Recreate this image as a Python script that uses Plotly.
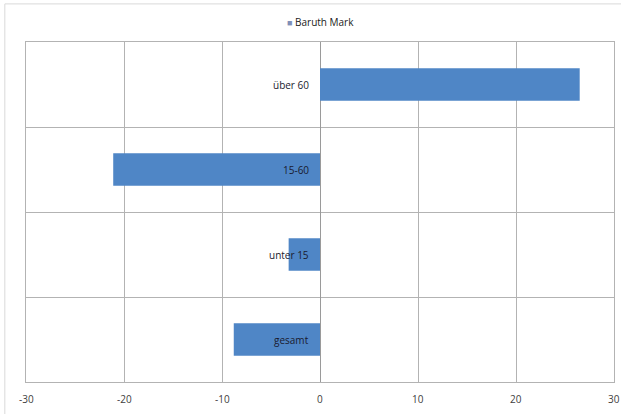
import plotly.graph_objects as go

# Population change by age group (percent), Baruth/Mark
categories = ["gesamt", "unter 15", "15-60", "über 60"]
values = [-8.8, -3.2, -21.1, 26.5]
series_name = "Baruth Mark"
x_ticks = [-30, -20, -10, 0, 10, 20, 30]

positions = list(range(len(categories)))
font_family = "Open Sans, Liberation Sans, sans-serif"

fig = go.Figure()
fig.add_trace(go.Bar(
    x=values,
    y=positions,
    orientation="h",
    name=series_name,
    marker=dict(color="#4F86C6", line=dict(width=0)),
    width=0.38,
    showlegend=False,
))

# Category labels sit next to the zero line
for pos, cat in zip(positions, categories):
    fig.add_annotation(
        x=0, y=pos, xref="x", yref="y",
        text=cat, showarrow=False,
        xanchor="right", yanchor="middle", xshift=-9,
        font=dict(family=font_family, size=10, color="#1a1a2e"),
    )

# Value-axis labels placed under each gridline (the outermost one sits at the page edge)
for t in x_ticks:
    fig.add_annotation(
        x=t, y=0, xref="x", yref="paper",
        text=str(t), showarrow=False,
        xanchor="center", yanchor="top", yshift=-8,
        font=dict(family=font_family, size=10, color="#404040"),
    )

# Compact legend entry: small square + series name
fig.add_annotation(
    x=0.5, y=1.06, xref="paper", yref="paper",
    text="<span style='color:#7F8FB8;font-size:9px'>■</span> " + series_name,
    showarrow=False, xanchor="center", yanchor="middle",
    font=dict(family=font_family, size=10, color="#1a1a1a"),
)

# Light frame around the whole chart
fig.add_shape(
    type="rect", xref="paper", yref="paper",
    x0=-0.036, x1=1.05, y0=-0.2, y1=1.112,
    line=dict(color="#D9D9D9", width=1), fillcolor="rgba(0,0,0,0)", layer="below",
)

fig.update_layout(
    width=621, height=414,
    margin=dict(l=26, r=7, t=42, b=32, autoexpand=False),
    paper_bgcolor="white",
    plot_bgcolor="white",
    showlegend=False,
    font=dict(family=font_family, size=10, color="#404040"),
    xaxis=dict(
        range=[-30, 30], tickvals=x_ticks,
        showticklabels=False,
        showgrid=True, gridcolor="#B3B3B3", gridwidth=1,
        zeroline=True, zerolinecolor="#9A9A9A", zerolinewidth=1,
        showline=True, linecolor="#B3B3B3", mirror=True,
        ticks="", automargin=False, fixedrange=True,
    ),
    yaxis=dict(
        range=[-0.5, len(categories) - 0.5],
        tickvals=[p + 0.5 for p in positions[:-1]],
        showticklabels=False,
        showgrid=True, gridcolor="#B3B3B3", gridwidth=1,
        zeroline=False,
        showline=True, linecolor="#B3B3B3", mirror=True,
        ticks="", automargin=False, fixedrange=True,
    ),
)

fig.write_html("out.html")
